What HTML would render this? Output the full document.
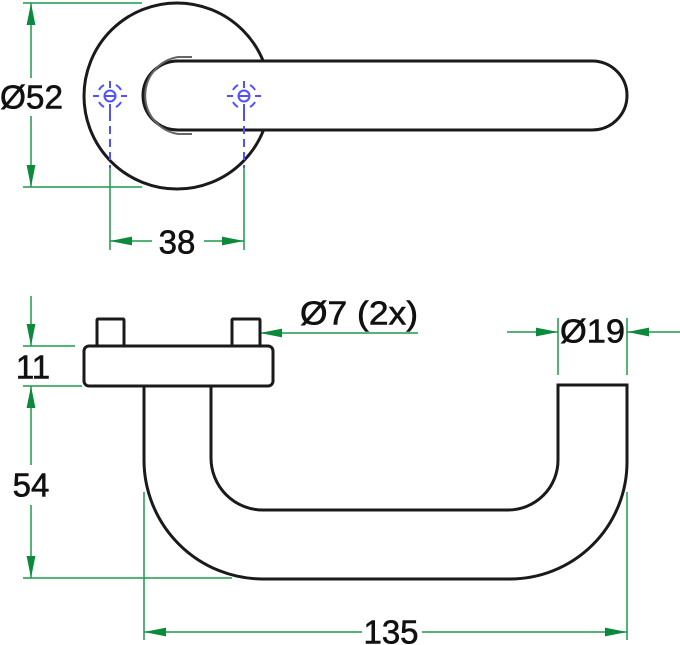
<!DOCTYPE html>
<html><head><style>html,body{margin:0;padding:0;background:#fff;width:680px;height:645px;overflow:hidden}</style></head>
<body>
<svg width="680" height="645" viewBox="0 0 680 645" xmlns="http://www.w3.org/2000/svg" font-family="Liberation Sans, sans-serif">
<defs>
<marker id="a" viewBox="0 0 20 8" refX="20" refY="4" markerWidth="22" markerHeight="9" markerUnits="userSpaceOnUse" orient="auto-start-reverse"><path d="M0,0 L20,4 L0,8 Z" fill="#0b8a3c"/></marker>
</defs>
<g stroke="#1a1a1a" stroke-width="3" fill="none">
<circle cx="177" cy="96" r="93" fill="#fff"/>
<path d="M178,61 H592 A35,34.5 0 0 1 592,130 H178 A35,34.5 0 0 1 178,61 Z" fill="#fff"/>
<path d="M192,57 H178 A39,39 0 0 0 178,134 H192" stroke="#666" stroke-width="2"/>
</g>
<g stroke="#5050ff" stroke-width="2" fill="none">
<g transform="translate(110,96)"><circle r="5.5"/><path d="M-6,0H6M0,-15V-8M-17,0H-11M11,0H17M0,8V17M-11,-6A13,13 0 0 1 -6,-11M6,-11A13,13 0 0 1 11,-6M11,6A13,13 0 0 1 6,11M-6,11A13,13 0 0 1 -11,6"/></g>
<g transform="translate(244,96)"><circle r="5.5"/><path d="M-6,0H6M0,-15V-8M-17,0H-11M11,0H17M0,8V17M-11,-6A13,13 0 0 1 -6,-11M6,-11A13,13 0 0 1 11,-6M11,6A13,13 0 0 1 6,11M-6,11A13,13 0 0 1 -11,6"/></g>
<path d="M110,113V168M244,113V168" stroke-dasharray="8,5"/>
</g>
<g stroke="#1d9a4c" stroke-width="1.5" fill="none">
<path d="M23,3H142M23,187H142"/>
<path d="M31,78V3" marker-end="url(#a)"/><path d="M31,116V187" marker-end="url(#a)"/>
<path d="M110,168V250M244,168V250"/>
<path d="M152,241H110" marker-end="url(#a)"/><path d="M204,241H244" marker-end="url(#a)"/>
<path d="M23,346H75M23,386H82M23,578H232"/>
<path d="M31,296V346" marker-end="url(#a)"/>
<path d="M31,465V386" marker-end="url(#a)"/><path d="M31,505V578" marker-end="url(#a)"/>
<path d="M144,492V640M627,492V640"/>
<path d="M362,632H144" marker-end="url(#a)"/><path d="M422,632H627" marker-end="url(#a)"/>
<path d="M558,318V375M627,318V375"/>
<path d="M507,332H558" marker-end="url(#a)"/><path d="M680,332H627" marker-end="url(#a)"/>
<path d="M418,333H260" marker-end="url(#a)"/>
</g>
<g stroke="#1a1a1a" stroke-width="3" fill="#fff">
<rect x="97" y="319" width="27" height="28" rx="1"/>
<rect x="232" y="319" width="28" height="28" rx="1"/>
<rect x="84" y="346" width="189" height="40" rx="5"/>
<path d="M144,386 V460 A119,119 0 0 0 263,579 H510 A117,117 0 0 0 627,462 V385 H558 V460 A50,50 0 0 1 508,510 H263 A52,52 0 0 1 211,458 V386" fill="none"/>
</g>
<g fill="#111" stroke="#111" stroke-width="0.6" font-size="33" dominant-baseline="central">
<text x="0" y="97" textLength="63" lengthAdjust="spacingAndGlyphs">Ø52</text>
<text x="177" y="242" text-anchor="middle">38</text>
<text x="33" y="367" text-anchor="middle">11</text>
<text x="31" y="485" text-anchor="middle">54</text>
<text x="391" y="632" text-anchor="middle">135</text>
<text x="560" y="331" textLength="65" lengthAdjust="spacingAndGlyphs">Ø19</text>
<text x="300" y="313" textLength="118" lengthAdjust="spacingAndGlyphs">Ø7 (2x)</text>
</g>
</svg>
</body></html>
